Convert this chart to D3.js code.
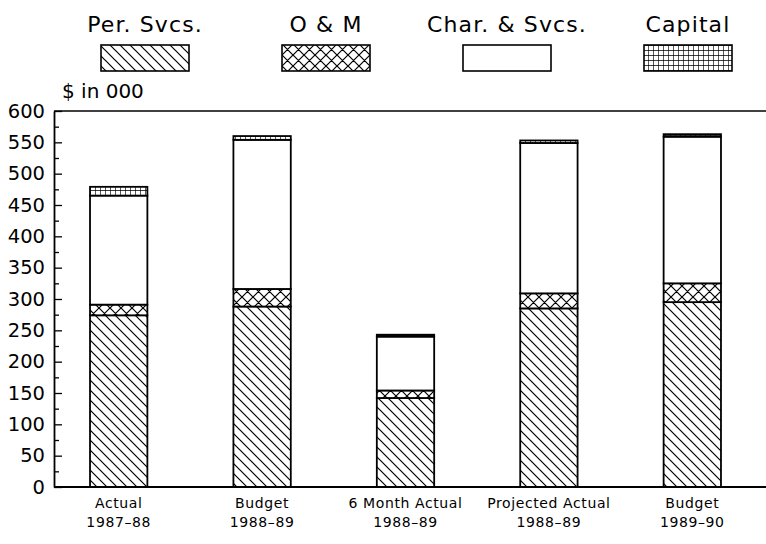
<!DOCTYPE html>
<html>
<head>
<meta charset="utf-8">
<script src="https://cdn.jsdelivr.net/npm/d3@7"></script>
<style>
  html, body { margin: 0; padding: 0; background: #fff; }
  svg { display: block; font-family: "DejaVu Sans", sans-serif; }
</style>
</head>
<body>
<svg id="chart" width="766" height="544"></svg>
<script>
// ---- data ----
const categories = ["Actual 1987-88", "Budget 1988-89", "6 Month Actual 1988-89", "Projected Actual 1988-89", "Budget 1989-90"];
const catLine1 = ["Actual", "Budget", "6 Month Actual", "Projected Actual", "Budget"];
const catLine2 = ["1987–88", "1988–89", "1988–89", "1988–89", "1989–90"];
const seriesNames = ["Per. Svcs.", "O & M", "Char. & Svcs.", "Capital"];
const perSvcs  = [274, 288, 142, 285, 295];
const oAndM    = [17, 28, 12, 24, 30];
const charSvcs = [174, 238, 86, 240, 234];
const capital  = [14, 6, 3, 4, 4];
const yTicks = [0, 50, 100, 150, 200, 250, 300, 350, 400, 450, 500, 550, 600];
const yMinorTicks = [25, 75, 125, 175, 225, 275, 325, 375, 425, 475, 525, 575];
const yTitle = "$ in 000";

// ---- layout ----
const svg = d3.select("#chart");
const plotLeft = 54, plotRight = 766, plotTop = 111, plotBottom = 487;

const x = d3.scaleBand().domain(categories).range([47, 764]).paddingInner(0.6).paddingOuter(0.3);
const y = d3.scaleLinear().domain([0, 600]).range([plotBottom, plotTop]);

// ---- patterns ----
const defs = svg.append("defs");
const pPer = defs.append("pattern").attr("id", "pPer").attr("patternUnits", "userSpaceOnUse")
  .attr("width", 10).attr("height", 10);
pPer.append("rect").attr("width", 10).attr("height", 10).attr("fill", "#fff");
pPer.append("path").attr("d", "M-5,-5 L15,15 M-5,5 L5,15 M5,-5 L15,5")
  .attr("stroke", "#000").attr("stroke-width", 1.2).attr("fill", "none");

const pOM = defs.append("pattern").attr("id", "pOM").attr("patternUnits", "userSpaceOnUse")
  .attr("width", 11).attr("height", 11);
pOM.append("rect").attr("width", 11).attr("height", 11).attr("fill", "#fff");
pOM.append("path").attr("d", "M0,0 L11,11 M11,0 L0,11 M-1,10 L1,12 M10,-1 L12,1 M-1,1 L1,-1 M10,12 L12,10")
  .attr("stroke", "#000").attr("stroke-width", 1.2).attr("fill", "none");

const pCap = defs.append("pattern").attr("id", "pCap").attr("patternUnits", "userSpaceOnUse")
  .attr("width", 5).attr("height", 5);
pCap.append("rect").attr("width", 5).attr("height", 5).attr("fill", "#fff");
pCap.append("path").attr("d", "M0,0 L5,0 M0,0 L0,5")
  .attr("stroke", "#000").attr("stroke-width", 1.3).attr("fill", "none");

const fills = ["url(#pPer)", "url(#pOM)", "#fff", "url(#pCap)"];

// ---- stacked data ----
const rows = categories.map((c, i) => ({
  cat: c, s0: perSvcs[i], s1: oAndM[i], s2: charSvcs[i], s3: capital[i]
}));
const stacked = d3.stack().keys(["s0", "s1", "s2", "s3"])(rows);

// ---- frame top line ----
svg.append("line").attr("x1", plotLeft).attr("x2", plotRight).attr("y1", y(600)).attr("y2", y(600))
  .attr("stroke", "#000").attr("stroke-width", 1.6);

// ---- bars ----
const layers = svg.append("g").selectAll("g").data(stacked).join("g")
  .attr("fill", (d, i) => fills[i]);
layers.selectAll("rect").data(d => d).join("rect")
  .attr("x", d => x(d.data.cat))
  .attr("width", x.bandwidth())
  .attr("y", d => y(d[1]))
  .attr("height", d => y(d[0]) - y(d[1]))
  .attr("stroke", "#000").attr("stroke-width", 1.8);

// ---- y axis ----
const yAxis = d3.axisLeft(y).tickValues(yTicks).tickSizeInner(-8).tickSizeOuter(0).tickPadding(9);
const gy = svg.append("g").attr("transform", `translate(${plotLeft},0)`).call(yAxis);
gy.select(".domain").attr("stroke-width", 1.8);
gy.selectAll(".tick line").attr("stroke-width", 1.3);
gy.selectAll(".tick text").attr("font-size", 19.5).attr("fill", "#000")
  .attr("font-family", "DejaVu Sans, sans-serif");

const yMinor = d3.axisLeft(y).tickValues(yMinorTicks).tickSizeInner(-5).tickSizeOuter(0).tickFormat("");
const gym = svg.append("g").attr("transform", `translate(${plotLeft},0)`).call(yMinor);
gym.select(".domain").remove();
gym.selectAll(".tick line").attr("stroke-width", 1.3);

// ---- x axis ----
svg.append("line").attr("x1", plotLeft).attr("x2", plotRight).attr("y1", y(0)).attr("y2", y(0))
  .attr("stroke", "#000").attr("stroke-width", 1.8);
const xAxis = d3.axisBottom(x).tickSize(0).tickPadding(0).tickFormat(() => "");
const gx = svg.append("g").attr("transform", `translate(0,${plotBottom})`).call(xAxis);
gx.select(".domain").remove();
gx.selectAll(".tick").each(function(d, i) {
  const t = d3.select(this).append("text").attr("fill", "#000").attr("text-anchor", "middle")
    .attr("font-size", 14).attr("letter-spacing", 0.6).attr("font-family", "DejaVu Sans, sans-serif");
  t.append("tspan").attr("x", 0).attr("y", 21).text(catLine1[i]);
  t.append("tspan").attr("x", 0).attr("y", 40).text(catLine2[i]);
});

// ---- y title ----
svg.append("text").attr("x", 62).attr("y", 98).attr("font-size", 20).attr("fill", "#000").text(yTitle);

// ---- legend ----
const legendX = d3.scalePoint().domain(seriesNames).range([145, 688]);
const lg = svg.append("g").selectAll("g").data(seriesNames).join("g")
  .attr("transform", d => `translate(${legendX(d)},0)`);
lg.append("text").attr("text-anchor", "middle").attr("y", 32).attr("font-size", 22)
  .attr("letter-spacing", 1.1).attr("fill", "#000").text(d => d);
lg.append("rect").attr("x", -44).attr("y", 45).attr("width", 88).attr("height", 26)
  .attr("fill", (d, i) => fills[i]).attr("stroke", "#000").attr("stroke-width", 1.6);
</script>
</body>
</html>
